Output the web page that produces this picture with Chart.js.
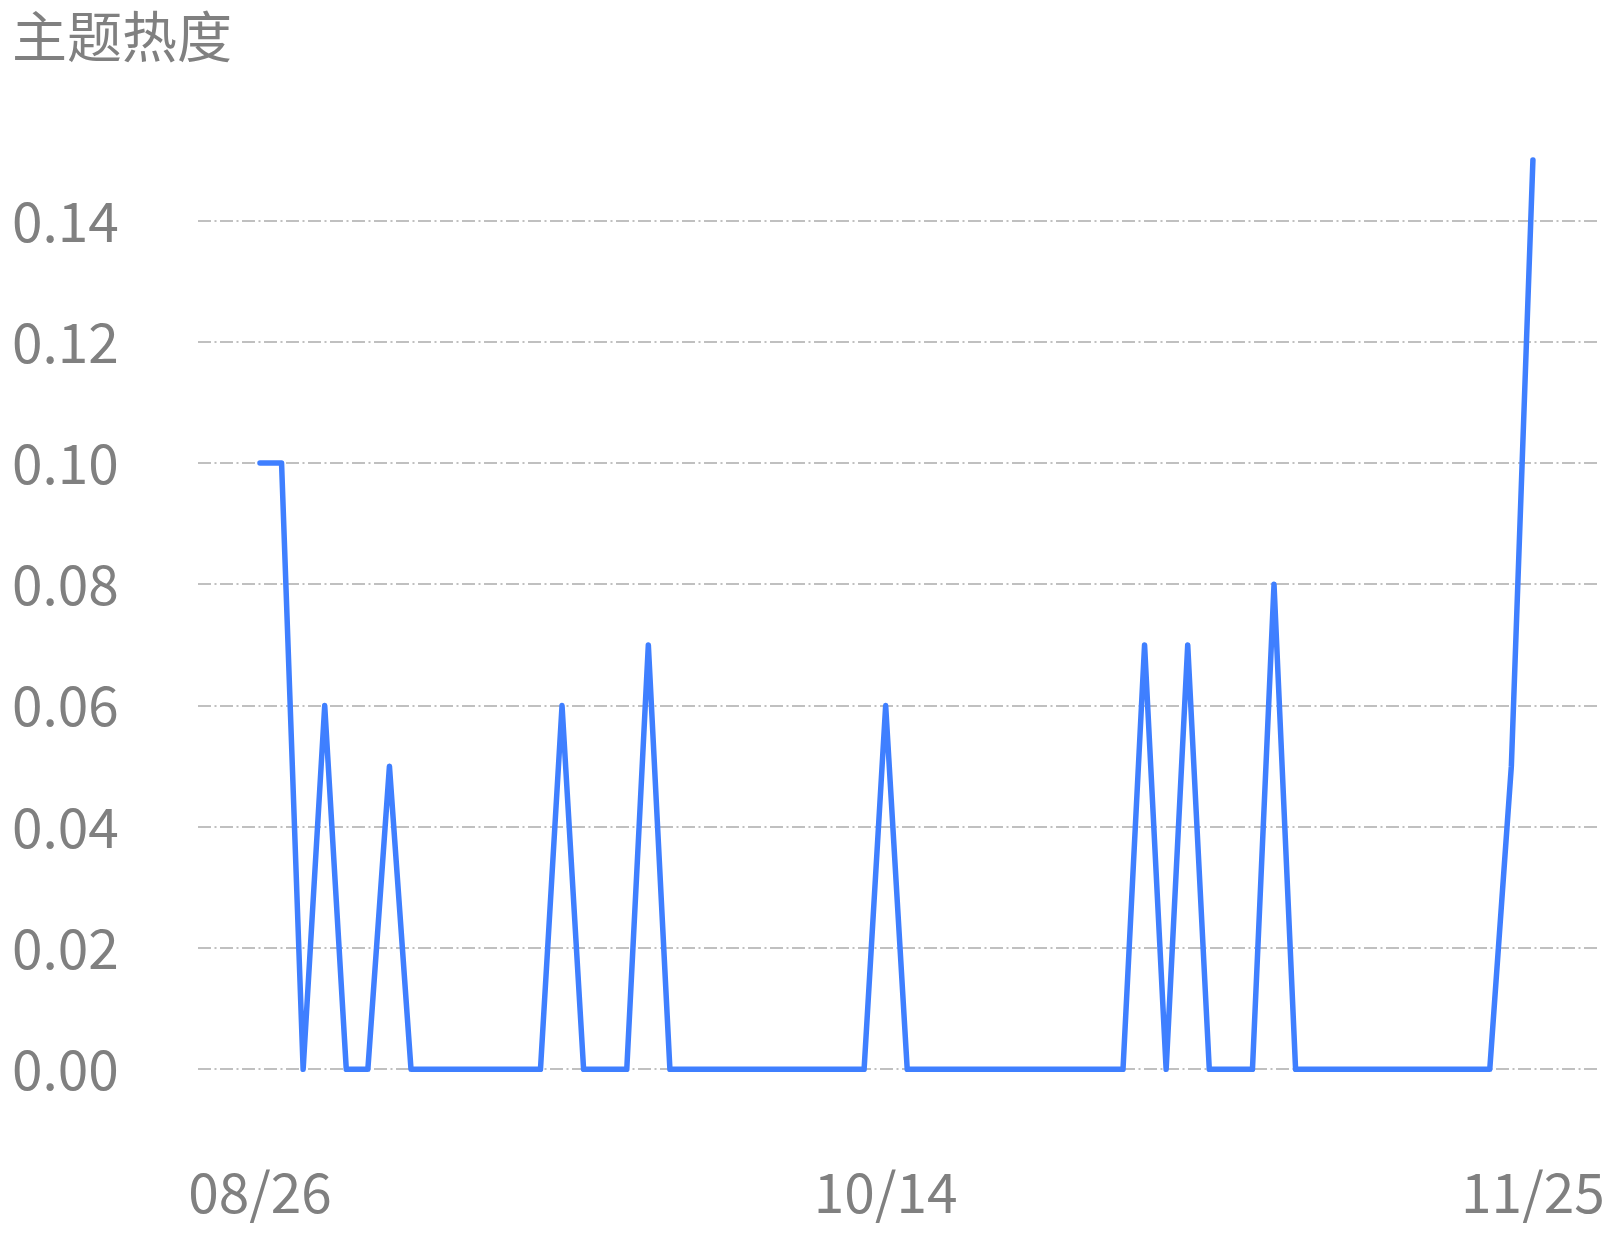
<!DOCTYPE html>
<html>
<head>
<meta charset="utf-8">
<script src="https://cdn.jsdelivr.net/npm/chart.js@4/dist/chart.umd.min.js"></script>
<style>
    html, body { margin: 0; padding: 0; background: #fff; }
    #wrap { width: 1618px; height: 1236px; position: relative; }
</style>
</head>
<body>
<div id="wrap"><canvas id="heatChart"></canvas></div>
<script>
// 主题热度 per period, 60 points
const heatValues = [
    0.10, 0.10, 0, 0.06, 0, 0, 0.05, 0, 0, 0,
    0, 0, 0, 0, 0.06, 0, 0, 0, 0.07, 0,
    0, 0, 0, 0, 0, 0, 0, 0, 0, 0.06,
    0, 0, 0, 0, 0, 0, 0, 0, 0, 0,
    0, 0.07, 0, 0.07, 0, 0, 0, 0.08, 0, 0,
    0, 0, 0, 0, 0, 0, 0, 0, 0.05, 0.15
];
const tickIndex = [0, 29, 59];
const tickLabels = ['08/26', '10/14', '11/25'];
const yTicks = [0, 0.02, 0.04, 0.06, 0.08, 0.10, 0.12, 0.14];

const textColor = '#808080';
const fontFamily = '"Noto Sans CJK SC", "Noto Sans", sans-serif';

const ctx = document.getElementById('heatChart').getContext('2d');

new Chart(ctx, {
    type: 'line',
    data: {
        datasets: [{
            label: '主题热度',
            data: heatValues.map((v, i) => ({ x: i, y: v })),
            borderColor: '#3f7fff',
            borderWidth: 5.5,
            pointRadius: 0,
            tension: 0,
            borderCapStyle: 'round',
            borderJoinStyle: 'round',
            fill: false,
            clip: false
        }]
    },
    options: {
        responsive: true,
        maintainAspectRatio: false,
        animation: false,
        layout: { padding: { left: 12, right: 21, top: 0, bottom: 0 } },
        plugins: {
            legend: { display: false },
            tooltip: { enabled: false },
            title: {
                display: true,
                text: '主题热度',
                align: 'start',
                color: textColor,
                font: { family: fontFamily, size: 55, weight: 'normal' },
                padding: { top: 3, bottom: 91 }
            }
        },
        scales: {
            x: {
                type: 'linear',
                min: -2.873,
                max: 61.97,
                // ticks are invisible, only used to push labels down
                grid: { display: true, drawOnChartArea: false, drawTicks: true, tickLength: 90, tickColor: 'rgba(0,0,0,0)' },
                border: { display: false },
                afterBuildTicks: (scale) => {
                    scale.ticks = tickIndex.map(v => ({ value: v }));
                },
                afterFit: (scale) => { scale.height = 166.7; },
                ticks: {
                    autoSkip: false,
                    maxRotation: 0,
                    padding: 0,
                    color: textColor,
                    font: { family: fontFamily, size: 55 },
                    callback: (value) => tickLabels[tickIndex.indexOf(value)] || ''
                }
            },
            y: {
                min: 0,
                max: 0.15,
                afterBuildTicks: (scale) => {
                    scale.ticks = yTicks.map(v => ({ value: v }));
                },
                afterFit: (scale) => { scale.width = 186; },
                grid: { color: '#c0c0c0', lineWidth: 2, drawTicks: false },
                border: { display: false, dash: [13, 3.5, 2, 3.5] },
                ticks: {
                    crossAlign: 'far',
                    color: textColor,
                    font: { family: fontFamily, size: 55 },
                    callback: (value) => value.toFixed(2)
                }
            }
        }
    }
});
</script>
</body>
</html>
